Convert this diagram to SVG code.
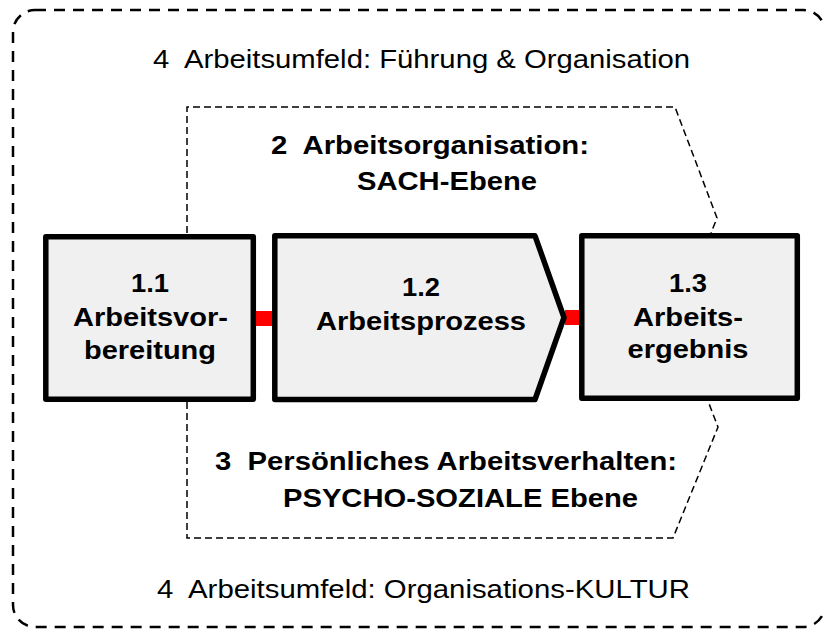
<svg xmlns="http://www.w3.org/2000/svg" width="823" height="629" viewBox="0 0 823 629">
<style>
.t{font-family:"Liberation Sans",Arial,sans-serif;font-size:26px;fill:#000;text-anchor:middle;white-space:pre}
.b{font-weight:bold}
.box{fill:#f0f0f0;stroke:#000;stroke-width:5.5;stroke-linejoin:round}
.dash{fill:none;stroke:#000;stroke-width:1.5;stroke-dasharray:7 4}
.outer{fill:none;stroke:#000;stroke-width:2.5;stroke-dasharray:11 8}
.link{fill:#ff0000}
</style>
<g id="umfeld">
<rect class="outer" x="13" y="10" width="812" height="617" rx="22"/>
<text class="t" x="421.5" y="68" textLength="537" lengthAdjust="spacingAndGlyphs" xml:space="preserve">4  Arbeitsumfeld: Führung &amp; Organisation</text>
<text class="t" x="423.5" y="598" textLength="533" lengthAdjust="spacingAndGlyphs" xml:space="preserve">4  Arbeitsumfeld: Organisations-KULTUR</text>
</g>
<g id="sach">
<path class="dash" d="M187,233 L187,107 L675,107 L717,218 L711,233"/>
<text class="t b" x="430" y="154" textLength="318" lengthAdjust="spacingAndGlyphs" xml:space="preserve">2  Arbeitsorganisation:</text>
<text class="t b" x="447" y="190" textLength="180" lengthAdjust="spacingAndGlyphs">SACH-Ebene</text>
</g>
<g id="psycho">
<path class="dash" d="M187,402 L187,538 L673,538 L718,427 L708,401"/>
<text class="t b" x="446" y="470" textLength="462" lengthAdjust="spacingAndGlyphs" xml:space="preserve">3  Persönliches Arbeitsverhalten:</text>
<text class="t b" x="460.5" y="507" textLength="355" lengthAdjust="spacingAndGlyphs">PSYCHO-SOZIALE Ebene</text>
</g>
<g id="connectors">
<rect class="link" x="256" y="311" width="17" height="15"/>
<rect class="link" x="565" y="310" width="16" height="15"/>
</g>
<g id="n11">
<rect class="box" x="45.8" y="236.8" width="207.5" height="162.5"/>
<text class="t b" x="150" y="292" textLength="38" lengthAdjust="spacingAndGlyphs">1.1</text>
<text class="t b" x="150.5" y="326" textLength="155" lengthAdjust="spacingAndGlyphs">Arbeitsvor-</text>
<text class="t b" x="150" y="359" textLength="132" lengthAdjust="spacingAndGlyphs">bereitung</text>
</g>
<g id="n12">
<path class="box" d="M274.8,235.8 L535,235.8 L564,317.5 L535,399.5 L274.8,399.5 Z"/>
<text class="t b" x="421" y="296" textLength="38" lengthAdjust="spacingAndGlyphs">1.2</text>
<text class="t b" x="421" y="330" textLength="210" lengthAdjust="spacingAndGlyphs">Arbeitsprozess</text>
</g>
<g id="n13">
<rect class="box" x="581.8" y="235.8" width="215.5" height="162.5"/>
<text class="t b" x="688" y="292" textLength="38" lengthAdjust="spacingAndGlyphs">1.3</text>
<text class="t b" x="688" y="326" textLength="110" lengthAdjust="spacingAndGlyphs">Arbeits-</text>
<text class="t b" x="688" y="358" textLength="121" lengthAdjust="spacingAndGlyphs">ergebnis</text>
</g>
</svg>
